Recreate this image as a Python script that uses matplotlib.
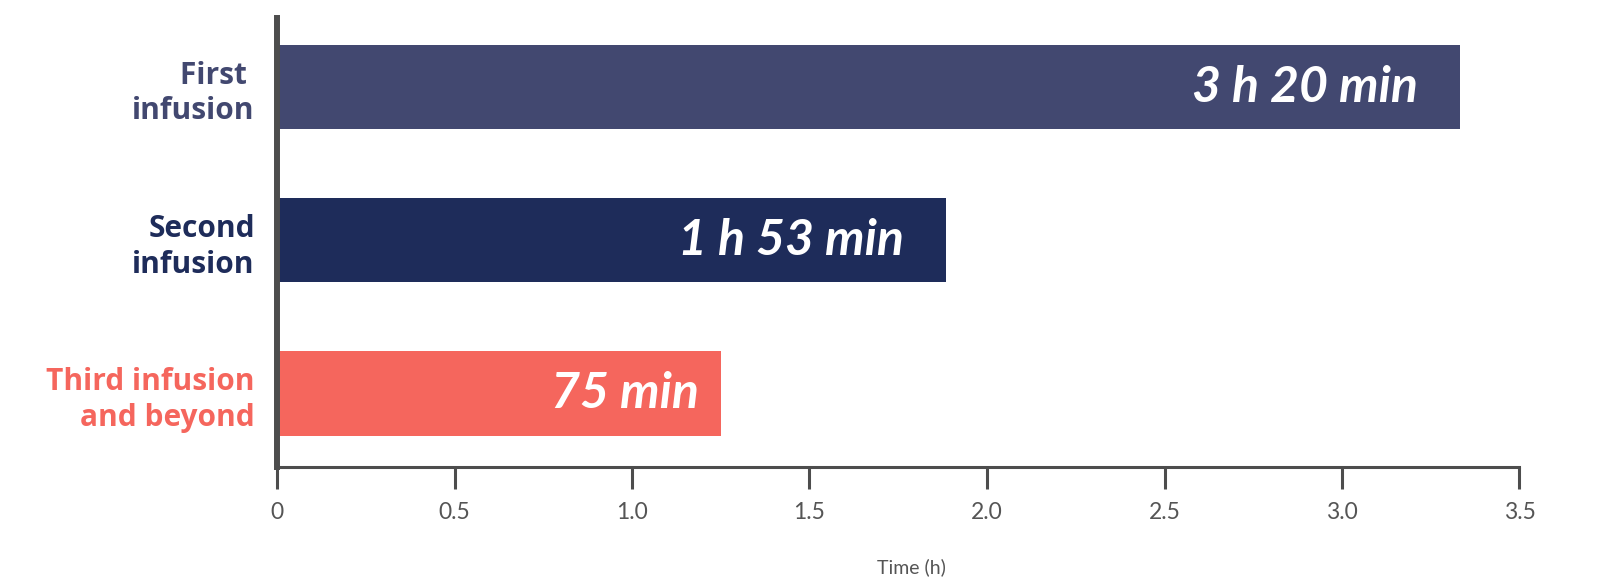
import matplotlib.pyplot as plt

# data
categories = ["First \ninfusion", "Second\ninfusion", "Third infusion\nand beyond"]
hours = [3 + 20 / 60, 1 + 53 / 60, 75 / 60]
bar_labels = ["3 h 20 min", "1 h 53 min", "75 min"]
x_ticks = [0, 0.5, 1.0, 1.5, 2.0, 2.5, 3.0, 3.5]
x_tick_labels = ["0", "0.5", "1.0", "1.5", "2.0", "2.5", "3.0", "3.5"]

colors = ["#424870", "#1e2c5a", "#f5665d"]
label_pad = [-42, -42, -22]  # px from bar end
axis_color = "#4d4d4d"

plt.rcParams['font.family'] = ['Lato', 'DejaVu Sans']

fig = plt.figure(figsize=(16.2, 5.87), dpi=100)
ax = fig.add_axes([277 / 1620, 120 / 587, 1242.5 / 1620, 449 / 587])

y = list(range(len(categories)))
ax.barh(y, hours, height=0.55, color=colors)

for yi, h, txt, pad in zip(y, hours, bar_labels, label_pad):
    ax.annotate(txt, (h, yi), xytext=(pad * 0.72, 0), textcoords="offset points",
                ha="right", va="center", color="white", fontsize=36,
                fontweight="bold", fontstyle="italic")

ax.set_xlim(0, 3.5)
ax.set_ylim(2.48, -0.451)

ax.set_yticks(y)
ax.set_yticklabels(categories, fontsize=21.5, fontweight="bold", linespacing=1.25,
                   family=['Open Sans', 'DejaVu Sans'])
for lbl, c in zip(ax.get_yticklabels(), colors):
    lbl.set_color(c)
ax.tick_params(axis="y", length=0, pad=16)

ax.set_xticks(x_ticks)
ax.set_xticklabels(x_tick_labels, fontsize=16.5, color="#555555")
ax.tick_params(axis="x", length=16, width=2.2, color=axis_color, pad=9)

for s in ["top", "right"]:
    ax.spines[s].set_visible(False)
ax.spines["left"].set_linewidth(4.3)
ax.spines["left"].set_color(axis_color)
ax.spines["bottom"].set_linewidth(2.2)
ax.spines["bottom"].set_color(axis_color)

fig.text(911 / 1620, 1 - 567 / 587, "Time (h)", ha="center", va="center",
         fontsize=14, color="#555555")

fig.savefig("out.png", dpi=100)
